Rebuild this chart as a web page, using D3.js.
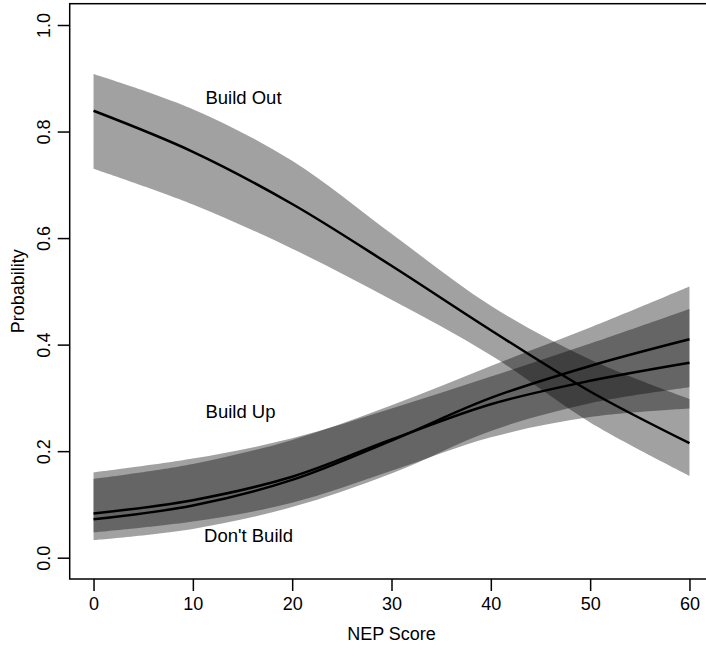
<!DOCTYPE html>
<html>
<head>
<meta charset="utf-8">
<script src="https://cdn.jsdelivr.net/npm/d3@7/dist/d3.min.js"></script>
<style>
  html, body { margin: 0; padding: 0; background: #fff; }
  svg { display: block; font-family: "Liberation Sans", Arial, Helvetica, sans-serif; }
</style>
</head>
<body>
<svg id="chart" width="706" height="646"></svg>
<script>
// ---- data ----
const nep = [0, 10, 20, 30, 40, 50, 60];

const buildOut   = [0.839, 0.762, 0.664, 0.548, 0.427, 0.312, 0.215];
const buildOutLo = [0.730, 0.663, 0.580, 0.484, 0.380, 0.254, 0.154];
const buildOutHi = [0.908, 0.842, 0.745, 0.608, 0.473, 0.372, 0.298];

const buildUp   = [0.083, 0.108, 0.152, 0.222, 0.288, 0.332, 0.366];
const buildUpLo = [0.0475, 0.068, 0.103, 0.163, 0.226, 0.264, 0.280];
const buildUpHi = [0.160, 0.186, 0.224, 0.280, 0.340, 0.402, 0.467];

const dontBuild   = [0.072, 0.098, 0.146, 0.220, 0.300, 0.360, 0.410];
const dontBuildLo = [0.033, 0.054, 0.095, 0.158, 0.238, 0.290, 0.320];
const dontBuildHi = [0.148, 0.176, 0.221, 0.286, 0.360, 0.432, 0.509];

const xTicks = [0, 10, 20, 30, 40, 50, 60];
const yTicks = [0.0, 0.2, 0.4, 0.6, 0.8, 1.0];

const labels = [
  { text: "Build Out",   x: 15.1, y: 0.852 },
  { text: "Build Up",    x: 14.8, y: 0.262 },
  { text: "Don't Build", x: 15.6, y: 0.030 }
];

// ---- layout ----
const svg = d3.select("#chart");
const x = d3.scaleLinear().domain([-2.4, 62.4]).range([69.7, 713.3]);
const y = d3.scaleLinear().domain([-0.04, 1.04]).range([579, 3.7]);

const series = [
  { mid: buildOut, lo: buildOutLo, hi: buildOutHi },
  { mid: buildUp, lo: buildUpLo, hi: buildUpHi },
  { mid: dontBuild, lo: dontBuildLo, hi: dontBuildHi }
];

const curve = d3.curveCatmullRom.alpha(0.5);
const area = d3.area().curve(curve)
  .x((d, i) => x(nep[i]))
  .y0(d => y(d[0]))
  .y1(d => y(d[1]));
const line = d3.line().curve(curve)
  .x((d, i) => x(nep[i]))
  .y(d => y(d));

// bands
series.forEach(s => {
  svg.append("path")
    .attr("d", area(s.lo.map((v, i) => [v, s.hi[i]])))
    .attr("fill", "#000")
    .attr("fill-opacity", 0.37)
    .attr("stroke", "none");
});
// lines
series.forEach(s => {
  svg.append("path")
    .attr("d", line(s.mid))
    .attr("fill", "none")
    .attr("stroke", "#000")
    .attr("stroke-width", 2.5);
});

// box
svg.append("rect")
  .attr("x", x.range()[0]).attr("y", y.range()[1])
  .attr("width", x.range()[1] - x.range()[0])
  .attr("height", y.range()[0] - y.range()[1])
  .attr("fill", "none").attr("stroke", "#000").attr("stroke-width", 1.5);

// x axis
const xAxis = d3.axisBottom(x).tickValues(xTicks).tickSize(12).tickPadding(6)
  .tickFormat(d3.format("d"));
const gx = svg.append("g").attr("transform", `translate(0,${y.range()[0]})`).call(xAxis);
gx.select(".domain").remove();
gx.selectAll(".tick line").attr("stroke", "#000").attr("stroke-width", 1.5);
gx.selectAll(".tick text").attr("font-size", 18).attr("fill", "#000")
  .attr("font-family", "Liberation Sans, Arial, sans-serif");

// y axis
const yAxis = d3.axisLeft(y).tickValues(yTicks).tickSize(12).tickFormat(d3.format(".1f"));
const gy = svg.append("g").attr("transform", `translate(${x.range()[0]},0)`).call(yAxis);
gy.select(".domain").remove();
gy.selectAll(".tick line").attr("stroke", "#000").attr("stroke-width", 1.5);
gy.selectAll(".tick text")
  .attr("font-size", 18).attr("fill", "#000")
  .attr("font-family", "Liberation Sans, Arial, sans-serif")
  .attr("x", null).attr("dy", null)
  .attr("text-anchor", "middle")
  .attr("transform", "translate(-20,0) rotate(-90)");

// axis titles
svg.append("text").attr("x", x(30)).attr("y", 640)
  .attr("text-anchor", "middle").attr("font-size", 18).text("NEP Score");
svg.append("text")
  .attr("transform", `translate(24,${y(0.5)}) rotate(-90)`)
  .attr("text-anchor", "middle").attr("font-size", 18).text("Probability");

// annotations
svg.selectAll("text.lab").data(labels).enter().append("text")
  .attr("class", "lab")
  .attr("x", d => x(d.x)).attr("y", d => y(d.y))
  .attr("text-anchor", "middle").attr("font-size", 18.5)
  .text(d => d.text);
</script>
</body>
</html>
